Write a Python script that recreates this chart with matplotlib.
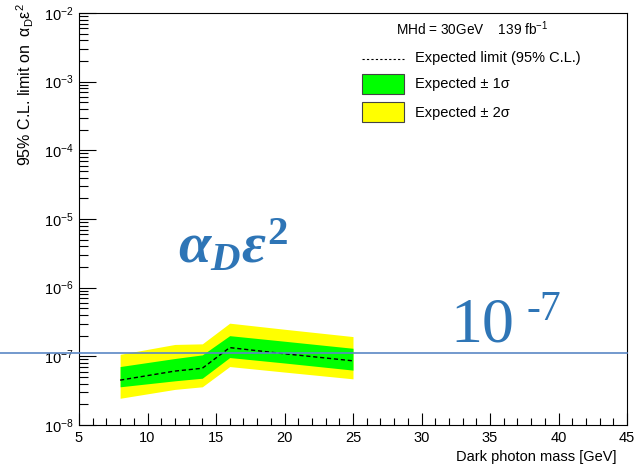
import numpy as np
import matplotlib
matplotlib.use("Agg")
import matplotlib.pyplot as plt
from matplotlib.patches import Rectangle
from matplotlib.lines import Line2D
from matplotlib.ticker import MultipleLocator, LogLocator, NullFormatter

plt.rcParams['font.family'] = ['Liberation Sans', 'DejaVu Sans']
plt.rcParams['mathtext.fontset'] = 'custom'
plt.rcParams['mathtext.it'] = 'Liberation Serif:italic:bold'
plt.rcParams['mathtext.rm'] = 'Liberation Serif:bold'
plt.rcParams['mathtext.bf'] = 'Liberation Serif:bold'

# expected limit and bands
mass = [8, 12, 14, 16, 20, 25]
expected = [4.5e-8, 6.1e-8, 6.7e-8, 1.34e-7, 1.09e-7, 8.6e-8]
sig1_lo = [3.6e-8, 4.4e-8, 4.8e-8, 9.6e-8, 8.0e-8, 6.3e-8]
sig1_hi = [7.1e-8, 9.3e-8, 1.05e-7, 2.0e-7, 1.66e-7, 1.31e-7]
sig2_lo = [2.45e-8, 3.3e-8, 3.6e-8, 7.1e-8, 5.9e-8, 4.7e-8]
sig2_hi = [1.07e-7, 1.49e-7, 1.52e-7, 3.04e-7, 2.48e-7, 1.94e-7]

W, H = 634, 466
fig = plt.figure(figsize=(W / 100, H / 100), dpi=100)
ax = fig.add_axes([79 / W, 41 / H, 548 / W, 412 / H])

ax.fill_between(mass, sig2_lo, sig2_hi, color='#ffff00', lw=0)
ax.fill_between(mass, sig1_lo, sig1_hi, color='#00ff00', lw=0)
ax.plot(mass, expected, color='black', lw=1.0, ls=(0, (3, 2)))

ax.set_yscale('log')
ax.set_xlim(5, 45)
ax.set_ylim(1e-8, 1e-2)
ax.xaxis.set_major_locator(MultipleLocator(5))
ax.xaxis.set_minor_locator(MultipleLocator(1))
ax.yaxis.set_major_locator(LogLocator(base=10, numticks=10))
ax.yaxis.set_minor_locator(LogLocator(base=10, subs=np.arange(2, 10), numticks=10))
ax.yaxis.set_minor_formatter(NullFormatter())
ax.tick_params(axis='both', which='both', direction='in', top=False, right=False,
               labelsize=10.5, width=0.8, color='black')
ax.tick_params(axis='y', which='major', length=12, pad=4)
ax.tick_params(axis='y', which='minor', length=6.5)
ax.tick_params(axis='x', which='major', length=8.5, pad=4)
ax.tick_params(axis='x', which='minor', length=5)
for s in ax.spines.values():
    s.set_linewidth(0.8)

ax.set_xlabel('Dark photon mass [GeV]', fontsize=10.5, ha='right', va='center')
ax.xaxis.set_label_coords((617 - 79) / 548, -(457 - 425) / 412)
fig.text(25 / W, 1 - 3 / H, r'95% C.L. limit on  $\mathregular{\alpha_{D}\varepsilon^{2}}$',
         rotation=90, ha='center', va='top', fontsize=11.5)

# legend drawn by hand, ROOT style
fig.text(472 / W, 1 - 29 / H, r'MHd = 30GeV    139 fb$\mathregular{^{-1}}$',
         ha='center', va='center', fontsize=9.8)
fig.add_artist(Line2D([362 / W, 404 / W], [1 - 58.5 / H, 1 - 58.5 / H],
                      color='black', lw=0.8, ls=(0, (2, 2))))
fig.text(415 / W, 1 - 58 / H, 'Expected limit (95% C.L.)', ha='left', va='center', fontsize=10.5)
fig.add_artist(Rectangle((362 / W, 1 - 94 / H), 42 / W, 20 / H, transform=fig.transFigure,
                         facecolor='#00ff00', edgecolor='#444444', lw=0.8))
fig.text(415 / W, 1 - 84 / H, 'Expected ± 1σ', ha='left', va='center', fontsize=10.5)
fig.add_artist(Rectangle((362 / W, 1 - 122 / H), 42 / W, 20 / H, transform=fig.transFigure,
                         facecolor='#ffff00', edgecolor='#444444', lw=0.8))
fig.text(415 / W, 1 - 113 / H, 'Expected ± 2σ', ha='left', va='center', fontsize=10.5)

# annotations
blue = '#2e75b6'
fig.add_artist(Line2D([0, 627 / W], [1 - 353.3 / H, 1 - 353.3 / H], color='#5b87c5', lw=1.2))
fig.text(178 / W, 1 - 263 / H, r'$\alpha_D\varepsilon^2$', color=blue, fontsize=42,
         ha='left', va='baseline')
fig.text(450 / W, 1 - 342 / H, '10', color=blue, fontsize=46, family='Liberation Serif',
         ha='left', va='baseline')
fig.text(526 / W, 1 - 320 / H, '-7', color=blue, fontsize=30, family='Liberation Serif',
         ha='left', va='baseline')

fig.savefig('out.png', dpi=100)
